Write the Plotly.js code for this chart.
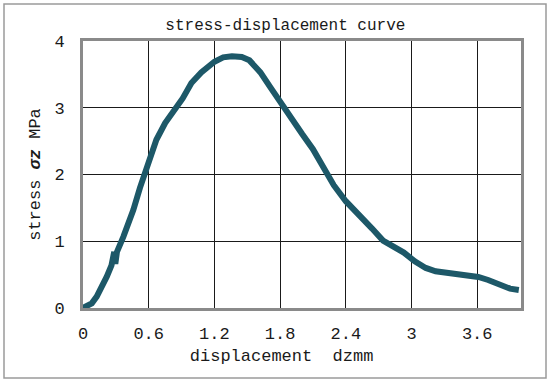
<!DOCTYPE html>
<html>
<head>
<meta charset="utf-8">
<script src="https://cdn.plot.ly/plotly-3.0.1.min.js"></script>
<style>html,body{margin:0;padding:0;background:#fff;}#chart{width:550px;height:383px;}</style>
</head>
<body>
<div id="chart"></div>
<script>
const displacement = [0, 0.03, 0.08, 0.125, 0.17, 0.217, 0.26, 0.275, 0.285, 0.295, 0.31, 0.369, 0.42, 0.46, 0.52, 0.567, 0.62, 0.67, 0.75, 0.84, 0.91, 0.99, 1.08, 1.2, 1.28, 1.36, 1.45, 1.52, 1.62, 1.71, 1.8, 1.9, 2.0, 2.1, 2.19, 2.29, 2.4, 2.52, 2.64, 2.74, 2.84, 2.93, 3.03, 3.13, 3.22, 3.32, 3.42, 3.51, 3.61, 3.7, 3.8, 3.9, 3.98];
const stress = [0.0, 0.02, 0.07, 0.17, 0.3, 0.47, 0.64, 0.72, 0.84, 0.66, 0.84, 1.07, 1.28, 1.47, 1.8, 2.02, 2.3, 2.52, 2.77, 2.98, 3.14, 3.37, 3.53, 3.69, 3.755, 3.77, 3.76, 3.71, 3.53, 3.31, 3.08, 2.86, 2.61, 2.38, 2.11, 1.84, 1.6, 1.41, 1.19, 1.01, 0.91, 0.83, 0.7, 0.6, 0.55, 0.53, 0.515, 0.49, 0.465, 0.42, 0.35, 0.29, 0.27];
const xTicks = [0, 0.6, 1.2, 1.8, 2.4, 3, 3.6];
const xTickText = ['0', '0.6', '1.2', '1.8', '2.4', '3', '3.6'];
const yTicks = [0, 1, 2, 3, 4];

const FONT = '"Liberation Mono", "DejaVu Sans Mono", monospace';

const trace = {
  x: displacement, y: stress, type: 'scatter', mode: 'lines',
  line: {color: '#1d5868', width: 6, shape: 'linear'},
  hoverinfo: 'skip', showlegend: false
};

const layout = {
  width: 550, height: 383,
  margin: {l: 83, r: 29, t: 41, b: 75},
  paper_bgcolor: '#ffffff', plot_bgcolor: '#ffffff',
  font: {family: FONT, color: '#1a1a1a', size: 16},
  title: {text: 'stress-displacement curve', x: 0.462, xref: 'paper', xanchor: 'center',
          y: 1 - 24/383, yref: 'container', yanchor: 'middle',
          font: {family: FONT, size: 16, color: '#1a1a1a'}},
  xaxis: {
    range: [0, 4], tickvals: xTicks, ticktext: xTickText,
    showgrid: true, gridcolor: '#1a1a1a', gridwidth: 1,
    showline: true, mirror: true, linecolor: '#8a8a8a', linewidth: 3,
    ticks: 'outside', ticklen: 8, tickcolor: 'rgba(0,0,0,0)',
    zeroline: false, tickfont: {family: FONT, size: 17, color: '#1a1a1a'},
    title: {text: 'displacement&nbsp;&nbsp;dzmm&nbsp;&nbsp;&nbsp;&nbsp;', standoff: 6,
            font: {family: FONT, size: 17, color: '#1a1a1a'}}
  },
  yaxis: {
    range: [0, 4], tickvals: yTicks,
    showgrid: true, gridcolor: '#1a1a1a', gridwidth: 1,
    showline: true, mirror: true, linecolor: '#8a8a8a', linewidth: 3,
    ticks: 'outside', ticklen: 12, tickcolor: 'rgba(0,0,0,0)',
    zeroline: false, tickfont: {family: FONT, size: 17, color: '#1a1a1a'},
    title: {text: 'stress <b><i>σz</i></b> MPa', standoff: 10,
            font: {family: FONT, size: 17, color: '#1a1a1a'}}
  },
  shapes: [{
    type: 'rect', xref: 'paper', yref: 'paper',
    x0: (4-83)/438, x1: (546-83)/438, y0: (308-378)/267, y1: (308-4)/267,
    line: {color: '#9a9a9a', width: 1.5}, fillcolor: 'rgba(0,0,0,0)', layer: 'below'
  }]
};

Plotly.newPlot('chart', [trace], layout, {displayModeBar: false, staticPlot: true});
</script>
</body>
</html>
